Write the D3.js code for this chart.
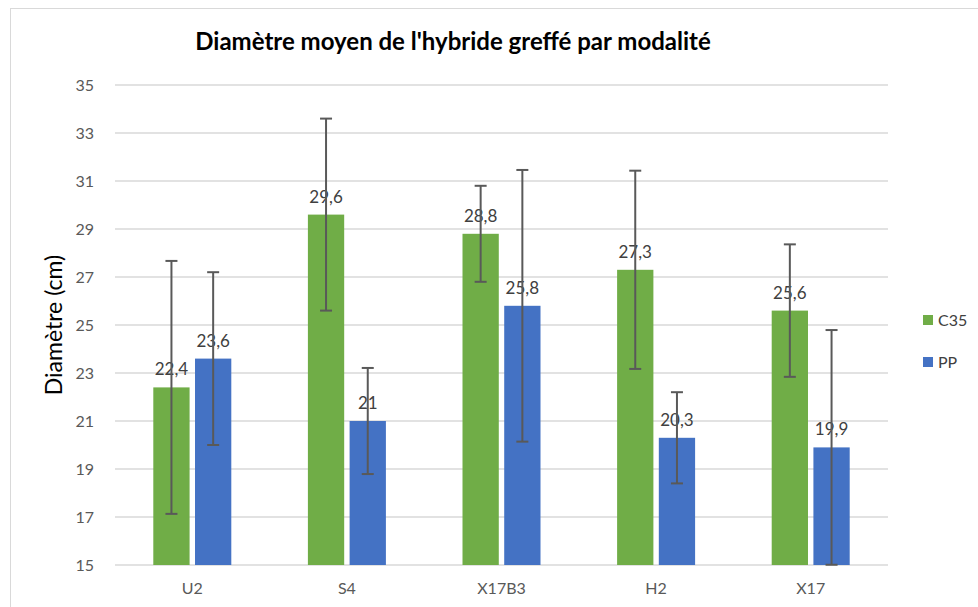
<!DOCTYPE html>
<html>
<head>
<meta charset="utf-8">
<script src="https://cdn.jsdelivr.net/npm/d3@7"></script>
<style>
  body { margin: 0; background: #fff; }
  text { font-family: Lato, "Open Sans", sans-serif; }
</style>
</head>
<body>
<div id="chart"></div>
<script>
// data
const categories = ["U2", "S4", "X17B3", "H2", "X17"];
const seriesNames = ["C35", "PP"];
const c35Values = [22.4, 29.6, 28.8, 27.3, 25.6];
const ppValues = [23.6, 21, 25.8, 20.3, 19.9];
const c35Errors = [5.27, 4.0, 2.0, 4.13, 2.76];
const ppErrors = [3.6, 2.21, 5.66, 1.9, 4.89];
const yTicks = [15, 17, 19, 21, 23, 25, 27, 29, 31, 33, 35];

const colors = { C35: "#70AD47", PP: "#4472C4" };

const width = 978;
const height = 607;
const margin = { top: 85, right: 90, bottom: 42, left: 115 };

const svg = d3.select("#chart")
  .append("svg")
  .attr("width", width)
  .attr("height", height);

// chart frame
svg.append("rect")
  .attr("x", 10.5)
  .attr("y", 8.5)
  .attr("width", width + 20)
  .attr("height", height + 20)
  .attr("fill", "none")
  .attr("stroke", "#d9d9d9");

const xScale = d3.scaleBand()
  .domain(categories)
  .range([margin.left, width - margin.right]);

const inner = d3.scaleBand()
  .domain(seriesNames)
  .range([xScale.bandwidth() / 2 - 39, xScale.bandwidth() / 2 + 39])
  .paddingInner(0.13);

const yScale = d3.scaleLinear()
  .domain([15, 35])
  .range([height - margin.bottom, margin.top]);

// grid lines
svg.append("g")
  .selectAll("line")
  .data(yTicks)
  .enter()
  .append("line")
  .attr("x1", margin.left)
  .attr("x2", width - margin.right)
  .attr("y1", d => yScale(d))
  .attr("y2", d => yScale(d))
  .attr("stroke", "#d9d9d9")
  .attr("stroke-width", 1.3);

// y axis labels
const yAxis = svg.append("g")
  .attr("transform", "translate(" + (margin.left - 18) + ",0)")
  .call(d3.axisLeft(yScale).tickValues(yTicks).tickSize(0));
yAxis.select(".domain").remove();
yAxis.selectAll("text")
  .attr("fill", "#595959")
  .style("font-size", "16px")
  .attr("dy", "0.35em");

// x axis labels
const xAxis = svg.append("g")
  .attr("transform", "translate(0," + yScale(15) + ")")
  .call(d3.axisBottom(xScale).tickSize(0));
xAxis.select(".domain").remove();
xAxis.selectAll("text")
  .attr("fill", "#595959")
  .style("font-size", "16px")
  .attr("dy", "1.6em");

const rows = categories.map((c, i) => ({
  category: c,
  series: [
    { name: "C35", value: c35Values[i], err: c35Errors[i] },
    { name: "PP", value: ppValues[i], err: ppErrors[i] }
  ]
}));

const groups = svg.selectAll(".group")
  .data(rows)
  .enter()
  .append("g")
  .attr("class", "group")
  .attr("transform", d => "translate(" + xScale(d.category) + ",0)");

const items = groups.selectAll(".item")
  .data(d => d.series)
  .enter()
  .append("g")
  .attr("class", "item");

items.append("rect")
  .attr("x", d => inner(d.name))
  .attr("width", inner.bandwidth())
  .attr("y", d => yScale(d.value))
  .attr("height", d => yScale(15) - yScale(d.value))
  .attr("fill", d => colors[d.name]);

// value labels
items.append("text")
  .attr("x", d => inner(d.name) + inner.bandwidth() / 2)
  .attr("y", d => yScale(d.value) - 12)
  .attr("text-anchor", "middle")
  .attr("fill", "#404040")
  .style("font-size", "17px")
  .text(d => String(d.value).replace(".", ","));

// error bars (clipped at the axis minimum)
const errColor = "#595959";
items.append("line")
  .attr("x1", d => inner(d.name) + inner.bandwidth() / 2)
  .attr("x2", d => inner(d.name) + inner.bandwidth() / 2)
  .attr("y1", d => yScale(d.value + d.err))
  .attr("y2", d => yScale(Math.max(15, d.value - d.err)))
  .attr("stroke", errColor)
  .attr("stroke-width", 2);

items.append("line")
  .attr("x1", d => inner(d.name) + inner.bandwidth() / 2 - 6)
  .attr("x2", d => inner(d.name) + inner.bandwidth() / 2 + 6)
  .attr("y1", d => yScale(d.value + d.err))
  .attr("y2", d => yScale(d.value + d.err))
  .attr("stroke", errColor)
  .attr("stroke-width", 2);

items.filter(d => d.value - d.err > 15)
  .append("line")
  .attr("x1", d => inner(d.name) + inner.bandwidth() / 2 - 6)
  .attr("x2", d => inner(d.name) + inner.bandwidth() / 2 + 6)
  .attr("y1", d => yScale(d.value - d.err))
  .attr("y2", d => yScale(d.value - d.err))
  .attr("stroke", errColor)
  .attr("stroke-width", 2);

// title
svg.append("text")
  .attr("x", 453)
  .attr("y", 50)
  .attr("text-anchor", "middle")
  .attr("fill", "#000")
  .style("font-size", "24px")
  .style("font-weight", "bold")
  .text("Diamètre moyen de l'hybride greffé par modalité");

// y axis title
svg.append("text")
  .attr("transform", "translate(62," + yScale(25) + ") rotate(-90)")
  .attr("text-anchor", "middle")
  .attr("fill", "#000")
  .style("font-size", "23px")
  .text("Diamètre (cm)");

// legend
const legend = svg.append("g")
  .attr("transform", "translate(923,315)");

const legendItems = legend.selectAll("g")
  .data(seriesNames)
  .enter()
  .append("g")
  .attr("transform", (d, i) => "translate(0," + i * 42 + ")");

legendItems.append("rect")
  .attr("width", 10)
  .attr("height", 10)
  .attr("fill", d => colors[d]);

legendItems.append("text")
  .attr("x", 15)
  .attr("y", 11)
  .attr("fill", "#404040")
  .style("font-size", "16px")
  .text(d => d);
</script>
</body>
</html>
